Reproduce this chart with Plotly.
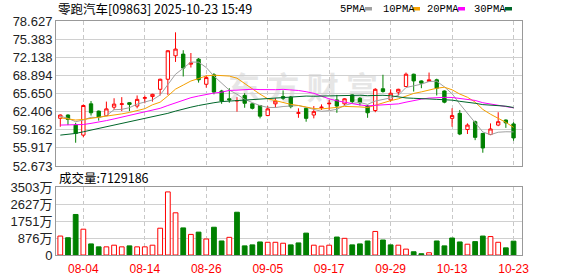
import base64
import plotly.graph_objects as go

# ---------------- data ----------------
dates = ["07-30", "07-31", "08-01", "08-04", "08-05", "08-06", "08-07", "08-08", "08-11", "08-12",
         "08-13", "08-14", "08-15", "08-18", "08-19", "08-20", "08-21", "08-22", "08-25", "08-26",
         "08-27", "08-28", "08-29", "09-01", "09-02", "09-03", "09-04", "09-05", "09-08", "09-09",
         "09-10", "09-11", "09-12", "09-15", "09-16", "09-17", "09-18", "09-19", "09-22", "09-23",
         "09-24", "09-25", "09-26", "09-29", "09-30", "10-02", "10-03", "10-06", "10-08", "10-09",
         "10-10", "10-13", "10-14", "10-15", "10-16", "10-17", "10-20", "10-21", "10-22", "10-23"]

opens = [61.21, 61.8, 60.0, 58.2, 63.8, 62.5, 61.7, 63.2, 63.7, 64.0,
         63.4, 64.8, 65.1, 66.4, 68.2, 72.4, 72.7, 70.9, 71.8, 67.3,
         69.0, 66.1, 64.7, 64.3, 65.3, 63.8, 63.5, 61.7, 63.8, 65.1,
         65.0, 62.1, 63.0, 61.8, 63.1, 63.8, 64.5, 63.8, 65.4, 64.8,
         63.4, 62.6, 66.5, 64.5, 65.9, 66.9, 69.1, 67.9, 67.8, 68.1,
         66.1, 61.2, 62.1, 59.2, 60.6, 58.5, 58.3, 60.0, 60.9, 60.2]
highs = [61.9, 61.9, 60.4, 63.7, 64.3, 62.6, 64.2, 64.8, 65.0, 64.1,
         65.3, 65.3, 65.6, 68.3, 73.4, 76.6, 73.4, 72.9, 72.0, 68.9,
         69.3, 66.3, 66.6, 65.0, 65.7, 63.9, 63.6, 63.4, 64.8, 66.2,
         65.2, 63.0, 63.1, 63.4, 63.7, 64.5, 65.4, 64.8, 65.5, 65.0,
         63.6, 66.6, 69.0, 66.4, 66.5, 69.4, 69.2, 68.0, 69.4, 68.3,
         66.2, 63.0, 62.7, 60.3, 60.8, 58.6, 60.3, 62.3, 61.0, 60.5]
lows = [59.7, 60.0, 56.84, 57.8, 61.7, 60.8, 61.6, 62.7, 62.5, 62.5,
        63.0, 63.9, 64.2, 65.3, 65.4, 71.3, 68.7, 70.3, 67.6, 66.7,
        65.5, 63.8, 64.0, 62.4, 63.1, 62.8, 61.2, 61.6, 63.1, 64.5,
        63.0, 61.3, 60.6, 61.2, 62.7, 62.7, 62.2, 63.5, 63.9, 63.5,
        61.3, 62.3, 65.8, 64.2, 65.3, 66.8, 66.0, 66.6, 67.7, 65.3,
        63.9, 59.7, 58.2, 58.4, 57.3, 55.05, 58.2, 59.8, 59.5, 57.2]
closes = [61.8, 61.0, 58.5, 63.5, 62.2, 61.4, 62.9, 63.75, 63.8, 63.7,
          64.6, 64.9, 65.5, 68.2, 73.3, 73.6, 70.2, 71.1, 68.1, 68.5,
          65.9, 64.3, 64.5, 64.4, 63.9, 63.0, 61.6, 62.9, 64.3, 64.8,
          63.3, 62.2, 61.2, 62.4, 63.2, 63.9, 63.4, 64.7, 64.2, 64.0,
          62.2, 66.4, 66.0, 65.7, 66.4, 69.1, 67.9, 67.5, 68.1, 66.6,
          64.1, 61.7, 58.4, 60.0, 57.8, 55.9, 59.3, 60.6, 60.4, 57.7]

# volume in 万股
volumes = [976, 890, 2088, 1329, 571, 420, 420, 505, 420, 470,
           420, 420, 505, 1380, 3250, 2174, 1395, 1061, 1178, 824,
           1431, 723, 910, 2204, 470, 521, 672, 655, 655, 607,
           521, 622, 1127, 505, 455, 505, 925, 859, 521, 571,
           723, 1213, 773, 521, 505, 303, 167, 66, 116, 723,
           470, 875, 672, 556, 690, 976, 950, 655, 369, 712.9]

ma5 = [61.6, 61.2, 60.6, 60.9, 61.4, 61.32, 61.7, 62.75, 62.81, 63.11,
       63.75, 64.15, 64.5, 65.38, 67.3, 69.1, 70.16, 71.28, 71.26, 70.3,
       68.76, 67.58, 66.26, 65.52, 64.6, 64.02, 63.48, 63.16, 63.14, 63.32,
       63.38, 63.5, 63.16, 62.78, 62.46, 62.58, 62.82, 63.52, 63.88, 64.04,
       63.7, 64.3, 64.56, 64.86, 65.34, 66.72, 67.02, 67.32, 67.8, 67.84,
       66.84, 65.6, 63.78, 62.16, 60.4, 58.76, 58.28, 58.72, 58.8, 58.78]
ma10 = [61.3, 61.1, 60.9, 61.0, 61.2, 61.4, 61.5, 61.7, 62.0, 62.26,
        62.54, 62.93, 63.63, 64.1, 65.21, 66.43, 67.16, 67.89, 68.32, 68.8,
        68.93, 68.87, 68.77, 68.39, 67.45, 66.39, 65.53, 64.71, 64.33, 63.96,
        63.71, 63.5, 63.17, 62.96, 62.89, 62.98, 63.16, 63.34, 63.33, 63.25,
        63.14, 63.56, 64.04, 64.37, 64.69, 65.21, 65.66, 65.94, 66.33, 66.59,
        66.78, 66.31, 65.55, 64.98, 64.12, 62.8, 61.94, 61.25, 60.48, 59.59]
ma20 = [60.0, 60.0, 60.0, 60.1, 60.3, 60.5, 60.8, 61.1, 61.4, 61.7,
        62.0, 62.3, 62.6, 63.0, 63.5, 64.0, 64.5, 64.9, 65.2, 65.53,
        65.73, 65.89, 66.2, 66.25, 66.33, 66.41, 66.35, 66.29, 66.33, 66.39,
        66.32, 66.19, 65.97, 65.68, 65.18, 64.69, 64.35, 64.03, 63.84, 63.61,
        63.43, 63.53, 63.61, 63.67, 63.79, 64.1, 64.41, 64.64, 64.83, 64.92,
        64.96, 64.94, 64.8, 64.68, 64.41, 64.0, 63.8, 63.58, 63.39, 63.08]
ma30 = [58.2, 58.3, 58.5, 58.8, 59.1, 59.4, 59.6, 59.9, 60.2, 60.5,
        60.8, 61.1, 61.4, 61.7, 62.1, 62.5, 62.9, 63.2, 63.5, 63.8,
        64.0, 64.2, 64.3, 64.4, 64.5, 64.6, 64.7, 64.8, 64.9, 65.0,
        65.06, 65.1, 65.19, 65.16, 65.19, 65.27, 65.29, 65.32, 65.33, 65.34,
        65.26, 65.31, 65.33, 65.24, 65.01, 64.86, 64.79, 64.67, 64.67, 64.6,
        64.54, 64.46, 64.25, 64.1, 63.9, 63.66, 63.59, 63.51, 63.38, 63.14]

tick_dates = ["08-04", "08-14", "08-26", "09-05", "09-17", "09-29", "10-13", "10-23"]
price_ticks = [52.673, 55.917, 59.162, 62.406, 65.650, 68.894, 72.138, 75.383, 78.627]
vol_ticks = [0, 876, 1751, 2627, 3503]
vol_tick_text = ["0", "876万", "1751万", "2627万", "3503万"]

title_text = "零跑汽车[09863] 2025-10-23 15:49"
vol_label = "成交量:7129186"
ma_names = ["5PMA", "10PMA", "20PMA", "30PMA"]

# ---------------- styling ----------------
RED = "#ff0000"
GREEN = "#008000"
MA_COLORS = ["#a0a0a0", "#f5a000", "#ff00ff", "#00662a"]
W, H = 578, 276
L, R, T, B = 56, 56, 21, 21


def px(x):
    return (x - L) / (W - L - R)


def py(y):
    return (H - B - y) / (H - T - B)


up = [True] + [closes[i] >= closes[i - 1] for i in range(1, len(closes))]
vol_fill = ["#ffffff" if u else GREEN for u in up]
vol_line = [RED if u else GREEN for u in up]

fig = go.Figure()

fig.add_trace(go.Candlestick(
    x=dates, open=opens, high=highs, low=lows, close=closes,
    increasing=dict(line=dict(color=RED, width=1), fillcolor="#ffffff"),
    decreasing=dict(line=dict(color=GREEN, width=1), fillcolor=GREEN),
    whiskerwidth=0, xaxis="x", yaxis="y", showlegend=False, hoverinfo="skip",
))

for vals, col, nm in zip([ma5, ma10, ma20, ma30], MA_COLORS, ma_names):
    fig.add_trace(go.Scatter(x=dates, y=vals, mode="lines", name=nm,
                             line=dict(color=col, width=1), xaxis="x", yaxis="y",
                             showlegend=False, hoverinfo="skip"))

fig.add_trace(go.Bar(
    x=dates, y=volumes, width=0.62,
    marker=dict(color=vol_fill, line=dict(color=vol_line, width=1)),
    xaxis="x2", yaxis="y2", showlegend=False, hoverinfo="skip",
))

grid_c = "#d0d0d0"
frame_c = "#999999"
tick_font = dict(family="Liberation Sans, Noto Sans CJK SC", size=13, color="#222222")

xcommon = dict(type="category", range=[-0.56, 60.1], tickmode="array", tickvals=tick_dates,
               ticktext=tick_dates, showgrid=True, gridcolor="#c8c8c8", griddash="4px,3px",
               gridwidth=1, showline=True, mirror=True, linecolor=frame_c, linewidth=1,
               ticks="", zeroline=False, fixedrange=True, automargin=False)

fig.update_layout(
    width=W, height=H,
    margin=dict(l=L, r=R, t=T, b=B, pad=0, autoexpand=False),
    paper_bgcolor="#ffffff", plot_bgcolor="#ffffff",
    boxgap=0.38, bargap=0.38,
    xaxis=dict(xcommon, anchor="y", showticklabels=False, rangeslider=dict(visible=False), domain=[0, 1]),
    xaxis2=dict(xcommon, anchor="y2", matches="x", showticklabels=True, domain=[0, 1],
                ticklabelstandoff=3,
                tickfont=dict(family="Liberation Sans", size=12, color=RED)),
    yaxis=dict(domain=[py(166), 1], range=[price_ticks[0], price_ticks[-1]], tickmode="array",
               tickvals=price_ticks, ticktext=[f"{v:.3f}" for v in price_ticks],
               showgrid=True, gridcolor=grid_c, showline=True, mirror=True, linecolor=frame_c,
               ticks="", zeroline=False, tickfont=tick_font, fixedrange=True, automargin=False),
    yaxis2=dict(domain=[0, py(187)], range=[0, vol_ticks[-1]], tickmode="array",
                tickvals=vol_ticks, ticktext=vol_tick_text,
                showgrid=True, gridcolor=grid_c, showline=True, mirror=True, linecolor=frame_c,
                ticks="", zeroline=False, tickfont=tick_font, fixedrange=True, automargin=False),
    showlegend=False,
)

# title
fig.add_annotation(text=title_text, x=px(56), y=py(9), xref="paper", yref="paper",
                   xanchor="left", yanchor="middle", showarrow=False,
                   font=dict(family="Noto Sans CJK SC", size=12.5, color="#000000"))
# volume label
fig.add_annotation(text=vol_label, x=px(57), y=py(177.5), xref="paper", yref="paper",
                   xanchor="left", yanchor="middle", showarrow=False,
                   font=dict(family="Noto Sans CJK SC", size=12.5, color="#000000"))

# MA legend: label followed by colour swatch
leg_x = [338, 381, 425, 472]
sw_x = [365, 413, 458, 505]
for nm, col, lx, sx in zip(ma_names, MA_COLORS, leg_x, sw_x):
    fig.add_annotation(text=nm, x=px(lx), y=py(9), xref="paper", yref="paper",
                       xanchor="left", yanchor="middle", showarrow=False,
                       font=dict(family="Liberation Mono", size=10.5, color="#000000"))
    fig.add_shape(type="rect", xref="paper", yref="paper",
                  x0=px(sx), x1=px(sx + 7), y0=py(10.5), y1=py(7),
                  line=dict(width=0), fillcolor=col)

# faint watermark behind the plot
svg = ('<svg xmlns="http://www.w3.org/2000/svg" width="160" height="34">'
       '<text x="0" y="29" font-family="Noto Sans CJK SC" font-weight="bold" font-size="32" '
       'fill="#e6e6e6" textLength="150">东方财富</text></svg>')
uri = "data:image/svg+xml;base64," + base64.b64encode(svg.encode("utf-8")).decode("ascii")
fig.add_layout_image(source=uri, xref="paper", yref="paper", x=px(228), y=py(72),
                     sizex=px(388) - px(228), sizey=py(72) - py(104), xanchor="left",
                     yanchor="top", sizing="stretch", layer="below", opacity=1)

fig.write_html("out.html")
